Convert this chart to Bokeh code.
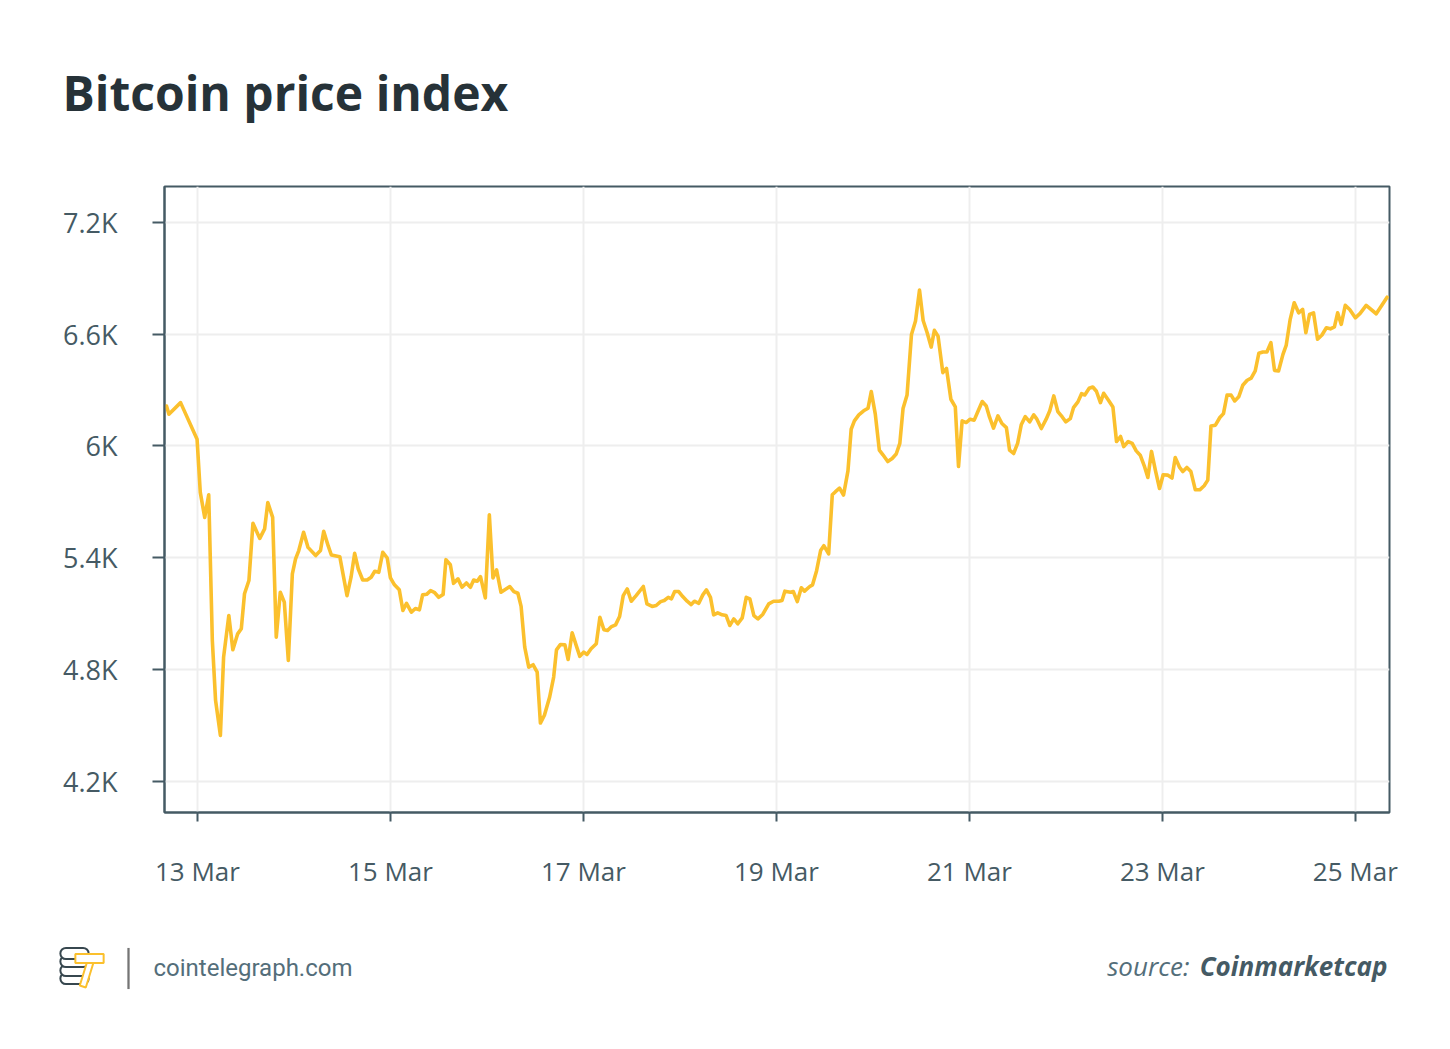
import pandas as pd
from bokeh.plotting import figure
from bokeh.models import (Range1d, FixedTicker, DatetimeTickFormatter, Label,
                          ColumnDataSource)
from bokeh.embed import file_html
from bokeh.resources import INLINE

# ---- data (hours after 13 Mar 2020 00:00, price in USD) ----
base_date = "2020-03-13"
hours = [
    -7.7, -7.1, -4.2, -0.1, 0.7, 1.8, 2.8, 3.7, 4.5, 5.7,
    6.5, 7.8, 8.8, 10.0, 10.9, 11.7, 12.8, 13.8, 15.5, 16.7,
    17.5, 18.7, 19.6, 20.6, 21.6, 22.6, 23.6, 24.4, 25.2, 26.4,
    27.5, 29.4, 30.6, 31.4, 32.5, 33.3, 35.4, 37.2, 38.2, 39.1,
    40.0, 41.1, 42.2, 43.2, 44.1, 45.1, 46.1, 47.2, 48.0, 49.0,
    50.2, 51.1, 52.0, 53.2, 54.2, 55.2, 56.0, 57.0, 58.0, 58.9,
    60.0, 61.1, 61.8, 62.9, 63.7, 64.8, 65.8, 66.9, 67.9, 68.7,
    69.6, 70.4, 71.6, 72.6, 73.5, 74.4, 75.5, 77.7, 78.7, 79.7,
    80.5, 81.4, 82.4, 83.5, 84.5, 85.3, 86.3, 87.6, 88.6, 89.3,
    90.3, 91.4, 92.2, 93.2, 94.2, 95.1, 96.1, 96.9, 97.9, 99.2,
    100.1, 101.1, 102.0, 103.0, 104.0, 105.0, 105.9, 106.9, 107.9, 109.1,
    110.9, 111.8, 113.1, 114.1, 115.2, 116.1, 117.1, 117.9, 118.7, 119.7,
    120.7, 121.8, 122.8, 123.6, 124.7, 125.7, 126.6, 127.6, 128.4, 129.4,
    130.5, 131.5, 132.4, 133.4, 134.4, 135.5, 136.5, 137.4, 138.4, 139.4,
    140.6, 142.1, 143.3, 144.6, 145.4, 146.1, 147.5, 148.2, 149.2, 150.2,
    151.0, 152.3, 153.0, 154.0, 155.0, 155.8, 157.0, 157.9, 158.7, 159.7,
    160.7, 161.8, 162.6, 163.4, 164.5, 165.7, 166.8, 167.6, 168.6, 169.6,
    170.5, 171.7, 172.8, 173.8, 174.7, 175.5, 176.5, 177.6, 178.6, 179.6,
    180.5, 181.5, 182.5, 183.3, 184.2, 185.4, 186.3, 187.4, 188.5, 189.3,
    190.2, 191.2, 192.2, 193.2, 194.2, 195.2, 196.2, 197.0, 198.0, 199.1,
    200.1, 201.2, 202.0, 203.0, 204.0, 204.9, 205.9, 207.0, 208.0, 208.8,
    209.9, 211.1, 212.0, 213.0, 214.0, 215.1, 216.0, 217.1, 217.9, 219.0,
    219.9, 220.7, 221.8, 222.7, 223.6, 224.6, 225.4, 226.6, 227.7, 228.6,
    229.6, 230.4, 231.5, 232.5, 233.5, 234.5, 235.5, 236.4, 237.3, 238.3,
    239.3, 240.2, 241.3, 242.4, 243.2, 244.3, 245.1, 246.1, 247.1, 248.2,
    249.3, 250.4, 251.3, 252.1, 253.2, 254.3, 255.2, 256.1, 257.1, 258.0,
    259.0, 260.0, 261.1, 262.1, 263.1, 264.0, 265.0, 266.0, 267.0, 267.9,
    268.9, 270.0, 270.8, 271.8, 272.8, 273.9, 274.9, 275.7, 276.6, 277.6,
    278.6, 279.7, 280.8, 281.8, 282.8, 283.6, 284.5, 285.5, 286.6, 288.0,
    289.2, 290.7, 293.2, 294.6, 295.9,
]
prices = [
    6214, 6170, 6232, 6036, 5750, 5616, 5737, 4955, 4634, 4446,
    4866, 5089, 4906, 4991, 5018, 5206, 5277, 5584, 5503, 5554,
    5696, 5616, 4973, 5214, 5161, 4848, 5313, 5393, 5438, 5536,
    5455, 5411, 5438, 5541, 5464, 5414, 5405, 5196, 5295, 5423,
    5339, 5280, 5280, 5295, 5327, 5321, 5429, 5398, 5291, 5254,
    5227, 5116, 5155, 5107, 5127, 5120, 5200, 5203, 5223, 5214,
    5187, 5202, 5389, 5362, 5262, 5286, 5241, 5264, 5241, 5280,
    5273, 5298, 5184, 5630, 5291, 5334, 5214, 5245, 5218, 5209,
    5138, 4920, 4812, 4825, 4786, 4512, 4554, 4652, 4759, 4905,
    4934, 4932, 4853, 4997, 4929, 4870, 4893, 4880, 4911, 4938,
    5080, 5013, 5009, 5030, 5039, 5084, 5196, 5232, 5166, 5196,
    5245, 5152, 5138, 5143, 5164, 5170, 5187, 5179, 5218, 5218,
    5191, 5166, 5148, 5166, 5155, 5200, 5227, 5187, 5093, 5104,
    5093, 5089, 5036, 5071, 5045, 5077, 5187, 5179, 5089, 5071,
    5095, 5152, 5166, 5166, 5170, 5220, 5214, 5218, 5164, 5238,
    5220, 5245, 5254, 5330, 5438, 5464, 5420, 5737, 5754, 5773,
    5736, 5866, 6089, 6134, 6166, 6188, 6202, 6291, 6170, 5977,
    5952, 5916, 5932, 5956, 6013, 6200, 6273, 6598, 6670, 6836,
    6673, 6607, 6530, 6620, 6589, 6393, 6416, 6250, 6209, 5889,
    6134, 6125, 6143, 6138, 6188, 6238, 6214, 6155, 6095, 6161,
    6120, 6098, 5977, 5959, 6013, 6113, 6157, 6129, 6166, 6143,
    6093, 6143, 6188, 6268, 6184, 6155, 6129, 6146, 6205, 6236,
    6280, 6273, 6309, 6316, 6293, 6232, 6282, 6245, 6209, 6023,
    6050, 5996, 6023, 6013, 5973, 5950, 5893, 5830, 5970, 5866,
    5771, 5845, 5843, 5827, 5937, 5884, 5862, 5884, 5862, 5764,
    5764, 5786, 5816, 6107, 6111, 6152, 6173, 6273, 6272, 6241,
    6263, 6325, 6352, 6363, 6402, 6497, 6504, 6504, 6554, 6405,
    6402, 6491, 6539, 6679, 6768, 6714, 6732, 6607, 6705, 6714,
    6572, 6595, 6634, 6628, 6639, 6714, 6652, 6754, 6732, 6687,
    6711, 6754, 6709, 6755, 6798,
]
x_tick_dates = ["2020-03-13", "2020-03-15", "2020-03-17", "2020-03-19",
                "2020-03-21", "2020-03-23", "2020-03-25"]
y_ticks = [4200, 4800, 5400, 6000, 6600, 7200]
y_tick_labels = ["4.2K", "4.8K", "5.4K", "6K", "6.6K", "7.2K"]
title_text = "Bitcoin price index"
site_text = "cointelegraph.com"
source_prefix = "source:"
source_name = "Coinmarketcap"

assert len(hours) == len(prices)

# ---- styling constants ----
LINE = "#fbc02d"
DARK = "#263238"
SLATE = "#455a64"
MUTED = "#546e7a"
GRID = "#eeeeee"

base = pd.Timestamp(base_date)
times = [base + pd.Timedelta(hours=h) for h in hours]
src = ColumnDataSource(dict(t=times, price=prices))

x_start = base - pd.Timedelta(hours=8.2)
x_end = base + pd.Timedelta(hours=296.5)

W, H = 1450, 1049
FL, FT, FB = 164, 186, 812     # frame left / top / bottom on the canvas

p = figure(width=W, height=H, x_axis_type="datetime",
           x_range=Range1d(x_start, x_end), y_range=Range1d(4032, 7392),
           output_backend="svg", toolbar_location=None,
           min_border_left=FL, min_border_right=W - 1389,
           min_border_top=FT, min_border_bottom=H - FB)
p.background_fill_color = "white"
p.border_fill_color = "white"
p.outline_line_color = SLATE
p.outline_line_width = 2

p.line("t", "price", source=src, line_color=LINE, line_width=3.6,
       line_join="round", line_cap="round")

tick_ms = [pd.Timestamp(d).value / 1e6 for d in x_tick_dates]
p.xaxis.ticker = FixedTicker(ticks=tick_ms)
p.xaxis.formatter = DatetimeTickFormatter(days="%d %b", months="%d %b",
                                          hours="%d %b", years="%d %b")
p.yaxis.ticker = FixedTicker(ticks=y_ticks)
p.yaxis.major_label_overrides = {t: l for t, l in zip(y_ticks, y_tick_labels)}

for ax in (p.xaxis[0], p.yaxis[0]):
    ax.axis_line_color = SLATE
    ax.axis_line_width = 2
    ax.major_tick_line_color = SLATE
    ax.major_tick_line_width = 2
    ax.major_tick_in = 0
    ax.minor_tick_line_color = None
    ax.major_label_text_color = SLATE
    ax.major_label_text_font = "Open Sans"

p.xaxis.major_label_text_font_size = "26px"
p.yaxis.major_label_text_font_size = "27px"
p.yaxis.major_tick_out = 12
p.yaxis.major_label_standoff = 35
p.xaxis.major_tick_out = 9
p.xaxis.major_label_standoff = 31

p.xgrid.grid_line_color = GRID
p.ygrid.grid_line_color = GRID
p.xgrid.grid_line_width = 2
p.ygrid.grid_line_width = 2

# ---- texts (canvas pixel positions; kept in the top panel, which has room) ----
p.add_layout(Label(x=62, y=92, x_units="canvas", y_units="canvas",
                   text=title_text, text_font="Open Sans", text_font_style="bold",
                   text_font_size="48px", text_color=DARK,
                   text_baseline="alphabetic", text_align="left"), "above")
p.add_layout(Label(x=153, y=967, x_units="canvas", y_units="canvas",
                   text=site_text, text_font="Roboto", text_font_size="24px",
                   text_color=MUTED, text_baseline="middle", text_align="left"),
             "above")
p.add_layout(Label(x=1387, y=965, x_units="canvas", y_units="canvas",
                   text=source_name, text_font="Open Sans",
                   text_font_style="bold italic", text_font_size="26px",
                   text_color=SLATE, text_baseline="alphabetic",
                   text_align="right"), "above")
p.add_layout(Label(x=1189, y=965, x_units="canvas", y_units="canvas",
                   text=source_prefix, text_font="Open Sans",
                   text_font_style="italic", text_font_size="26px",
                   text_color=MUTED, text_baseline="alphabetic",
                   text_align="right"), "above")

# ---- footer logo, drawn as small label boxes (canvas pixels) ----
def box(cx, cy, w, h, fill, line, lw=2, radius=0, angle=0.0):
    return Label(x=cx, y=cy, x_units="canvas", y_units="canvas", text=" ",
                 text_font_size="1px", text_align="center", text_baseline="middle",
                 text_color=fill, background_fill_color=fill,
                 background_fill_alpha=1.0, border_line_color=line,
                 border_line_width=lw,
                 padding=dict(left=w // 2, right=w // 2, top=h // 2, bottom=h // 2),
                 border_radius=radius, angle=angle)

for cy in (978, 970, 961, 953):          # coin stack, bottom coin first
    p.add_layout(box(74, cy, 28, 10, "white", "#37474f", 2, radius=6), "below")
p.add_layout(box(86, 974, 7, 24, "white", LINE, 2, angle=-0.3), "below")   # bolt stem
p.add_layout(box(89, 958, 28, 9, "white", LINE, 2), "below")                # T bar
p.add_layout(box(128, 968, 2, 40, "#757575", None, 0), "below")             # separator

open("out.html", "w").write(file_html(p, INLINE))
